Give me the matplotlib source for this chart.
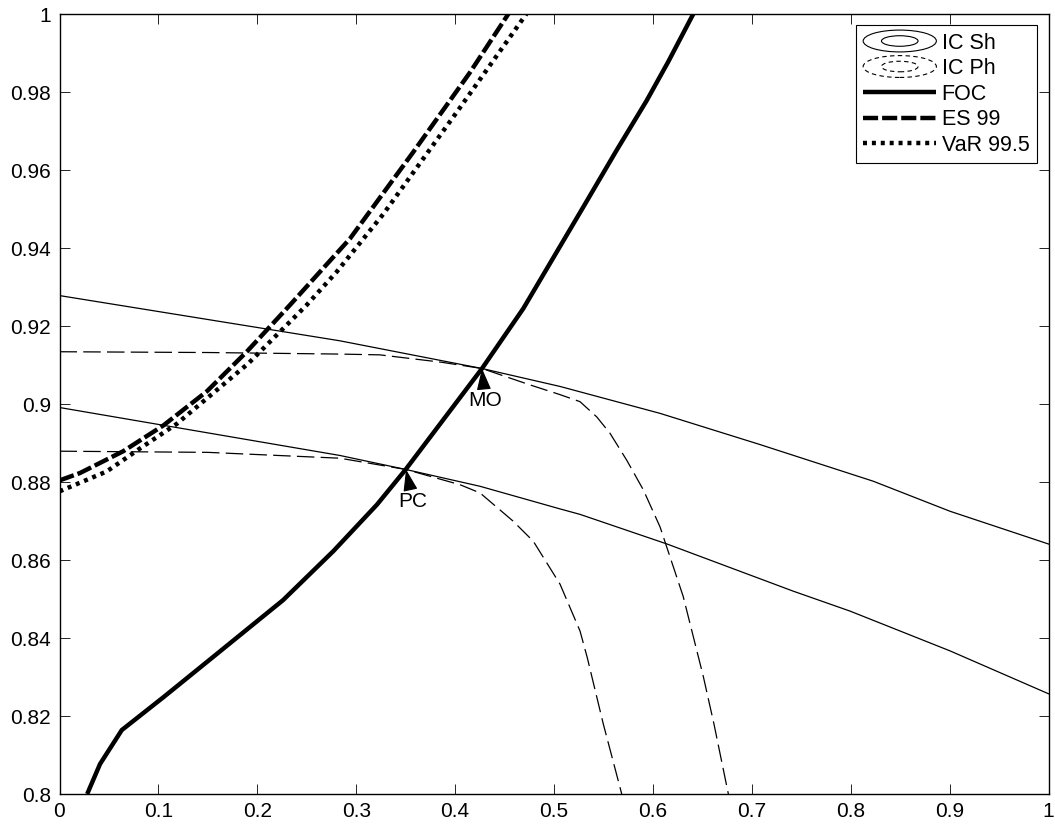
import matplotlib
matplotlib.use("Agg")
import matplotlib.pyplot as plt
from matplotlib.legend_handler import HandlerBase
from matplotlib.patches import Ellipse

plt.rcParams['font.family'] = ['Liberation Sans', 'DejaVu Sans']

# ---- data ----
foc_x = [0.028, 0.041, 0.063, 0.105, 0.159, 0.226, 0.277, 0.321, 0.350, 0.4272, 0.469, 0.5296,
         0.5634, 0.5937, 0.6156, 0.6408]
foc_y = [0.800, 0.8077, 0.8164, 0.8248, 0.8359, 0.8497, 0.8623, 0.8742, 0.8832, 0.9091, 0.9245, 0.9505,
         0.9651, 0.9778, 0.9878, 1.0]

es_x = [0.0, 0.0207, 0.0645, 0.105, 0.1488, 0.1893, 0.2331, 0.2937, 0.3577, 0.415, 0.4538]
es_y = [0.8804, 0.8823, 0.8879, 0.8945, 0.9032, 0.9134, 0.9254, 0.9424, 0.9646, 0.985, 1.0]

var_x = [0.0, 0.0477, 0.0814, 0.1185, 0.1909, 0.25, 0.2803, 0.3274, 0.4016, 0.472]
var_y = [0.8776, 0.8827, 0.8886, 0.8949, 0.9104, 0.9254, 0.9339, 0.9487, 0.9748, 1.0]

icsh_hi_x = [0.0, 0.2836, 0.4272, 0.5061, 0.6072, 0.7083, 0.8228, 0.9004, 1.0]
icsh_hi_y = [0.9278, 0.9162, 0.9091, 0.9045, 0.8976, 0.8896, 0.8802, 0.8725, 0.8641]

icsh_lo_x = [0.0, 0.2836, 0.3504, 0.4252, 0.5061, 0.5263, 0.6143, 0.742, 0.7993, 0.9004, 1.0]
icsh_lo_y = [0.8991, 0.8868, 0.8832, 0.8789, 0.8731, 0.8717, 0.8641, 0.852, 0.8469, 0.8367, 0.8257]

icph_hi_x = [0.0, 0.15, 0.2836, 0.324, 0.3865, 0.4272, 0.4757, 0.5061, 0.5263, 0.5432, 0.5566,
             0.5735, 0.5903, 0.6072, 0.6307, 0.651, 0.6617, 0.6763]
icph_hi_y = [0.9134, 0.9132, 0.9128, 0.9126, 0.9107, 0.9091, 0.9049, 0.9024, 0.9006, 0.8967, 0.8925,
             0.8856, 0.878, 0.8685, 0.8506, 0.8301, 0.818, 0.8]

icph_lo_x = [0.0, 0.15, 0.2836, 0.3504, 0.405, 0.4252, 0.4585, 0.4791, 0.5061, 0.5263,
             0.5336, 0.5498, 0.5685]
icph_lo_y = [0.8879, 0.8876, 0.8861, 0.8832, 0.8793, 0.8772, 0.870, 0.8648, 0.8538, 0.8418,
             0.835, 0.818, 0.8]

points = ['MO', 'PC']
point_x = [0.4272, 0.3504]
point_y = [0.9091, 0.8832]
label_x = [0.4302, 0.3574]
label_y = [0.9008, 0.8749]

xticks = [0, 0.1, 0.2, 0.3, 0.4, 0.5, 0.6, 0.7, 0.8, 0.9, 1.0]
xtick_labels = ['0', '0.1', '0.2', '0.3', '0.4', '0.5', '0.6', '0.7', '0.8', '0.9', '1']
yticks = [0.8, 0.82, 0.84, 0.86, 0.88, 0.9, 0.92, 0.94, 0.96, 0.98, 1.0]
ytick_labels = ['0.8', '0.82', '0.84', '0.86', '0.88', '0.9', '0.92', '0.94', '0.96', '0.98', '1']


class HandlerContour(HandlerBase):
    def __init__(self, ls):
        super().__init__()
        self.ls = ls

    def create_artists(self, legend, orig_handle, xdescent, ydescent,
                       width, height, fontsize, trans):
        cx = width / 2 - xdescent
        cy = height / 2 - ydescent
        arts = []
        for fw, fh in [(1.0, 1.45), (0.5, 0.7)]:
            e = Ellipse((cx, cy), width * fw, height * fh, fill=False,
                        ec='k', lw=0.8, transform=trans)
            if self.ls == 'dashed':
                e.set_linestyle((0, (4, 3)))
            arts.append(e)
        return arts


fig = plt.figure(figsize=(10.55, 8.25), dpi=100)
ax = fig.add_axes([59.5 / 1055, 31 / 825, 989 / 1055, 780 / 825])

thin = 0.9
thick = 3.2
l_sh, = ax.plot(icsh_hi_x, icsh_hi_y, color='k', lw=thin, label='IC Sh')
ax.plot(icsh_lo_x, icsh_lo_y, color='k', lw=thin)
l_ph, = ax.plot(icph_hi_x, icph_hi_y, color='k', lw=thin, dashes=(14, 5), label='IC Ph')
ax.plot(icph_lo_x, icph_lo_y, color='k', lw=thin, dashes=(14, 5))
l_foc, = ax.plot(foc_x, foc_y, color='k', lw=thick, solid_capstyle='butt',
                 solid_joinstyle='round', label='FOC')
l_es, = ax.plot(es_x, es_y, color='k', lw=thick, dashes=(3.4, 0.9), label='ES 99')
l_var, = ax.plot(var_x, var_y, color='k', lw=thick, dashes=(0.9, 1.1), label='VaR 99.5')

for name, px, py, tx, ty in zip(points, point_x, point_y, label_x, label_y):
    ax.annotate(name, xy=(px, py), xytext=(tx, ty), ha='center', va='center',
                fontsize=15,
                arrowprops=dict(arrowstyle='-|>,head_length=0.9,head_width=0.3',
                                color='k', lw=0.8, shrinkA=1, shrinkB=0))

ax.set_xlim(0, 1)
ax.set_ylim(0.8, 1)
ax.set_xticks(xticks)
ax.set_xticklabels(xtick_labels)
ax.set_yticks(yticks)
ax.set_yticklabels(ytick_labels)
ax.tick_params(direction='in', top=True, right=True, length=7, width=0.6,
               labelsize=15, pad=6)
for s in ax.spines.values():
    s.set_linewidth(1.0)

leg = ax.legend(handles=[l_sh, l_ph, l_foc, l_es, l_var],
                handler_map={l_sh: HandlerContour('solid'), l_ph: HandlerContour('dashed')},
                loc='upper right', bbox_to_anchor=(0.9884, 0.9859),
                borderaxespad=0, fontsize=15.5, frameon=True, fancybox=False,
                edgecolor='k', framealpha=1, handlelength=3.4, handletextpad=0.25,
                labelspacing=0.21, borderpad=0.35)
leg.get_frame().set_linewidth(0.8)

fig.savefig('out.png', dpi=100)
